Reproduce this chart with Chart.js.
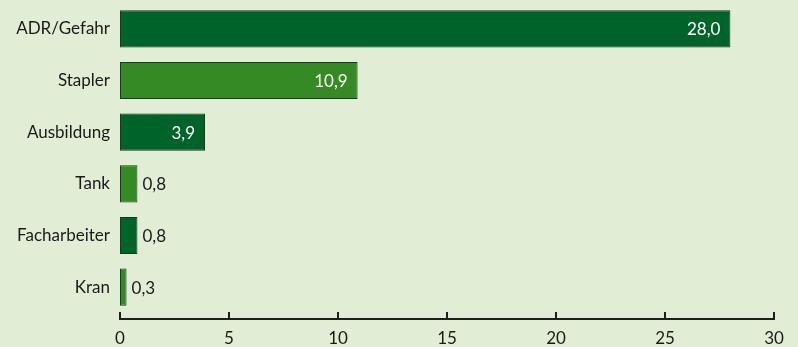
<!DOCTYPE html>
<html>
<head>
<meta charset="utf-8">
<script src="https://cdn.jsdelivr.net/npm/chart.js@4"></script>
<style>
  html, body { margin: 0; padding: 0; background: #e2edd6; overflow: hidden; }
  #wrap { width: 798px; height: 347px; position: relative; }
</style>
</head>
<body>
<div id="wrap"><canvas id="chart"></canvas></div>
<script>
const categories = ['ADR/Gefahr', 'Stapler', 'Ausbildung', 'Tank', 'Facharbeiter', 'Kran'];
const values = [28.0, 10.9, 3.9, 0.8, 0.8, 0.3];
const xTicks = [0, 5, 10, 15, 20, 25, 30];

const dark = '#00632a';
const light = '#358a26';
const barColors = values.map((v, i) => (i % 2 === 0 ? dark : light));
const fontFamily = 'Lato, "DejaVu Sans", sans-serif';
const fontSize = 17;

const fmt = (v) => v.toFixed(1).replace('.', ',');

// value labels: white inside long bars, dark outside short ones
const valueLabels = {
  id: 'valueLabels',
  afterDatasetsDraw(chart) {
    const ctx = chart.ctx;
    const meta = chart.getDatasetMeta(0);
    ctx.save();
    ctx.font = fontSize + 'px ' + fontFamily;
    ctx.textBaseline = 'middle';
    meta.data.forEach((bar, i) => {
      const v = values[i];
      if (v > 3) {
        ctx.fillStyle = '#ffffff';
        ctx.textAlign = 'right';
        ctx.fillText(fmt(v), bar.x - 10, bar.y + 1);
      } else {
        ctx.fillStyle = '#1a1a1a';
        ctx.textAlign = 'left';
        ctx.fillText(fmt(v), bar.x + 5, bar.y + 1);
      }
    });
    ctx.restore();
  }
};

// bottom axis line with ticks pointing up, slightly below the bars
const bottomAxis = {
  id: 'bottomAxis',
  afterDraw(chart) {
    const ctx = chart.ctx;
    const xs = chart.scales.x;
    const y = chart.chartArea.bottom + 6;
    ctx.save();
    ctx.strokeStyle = '#1e1e1e';
    ctx.lineWidth = 2;
    ctx.beginPath();
    ctx.moveTo(xs.getPixelForValue(xTicks[0]) - 1, y);
    ctx.lineTo(xs.getPixelForValue(xTicks[xTicks.length - 1]) + 1, y);
    ctx.stroke();
    xTicks.forEach((t) => {
      const px = Math.round(xs.getPixelForValue(t));
      ctx.beginPath();
      ctx.moveTo(px, y);
      ctx.lineTo(px, y - 7);
      ctx.stroke();
    });
    ctx.restore();
  }
};

new Chart(document.getElementById('chart'), {
  type: 'bar',
  data: {
    labels: categories,
    datasets: [{
      data: values,
      backgroundColor: barColors,
      borderColor: '#183a1e',
      borderWidth: 1,
      borderSkipped: false,
      barPercentage: 0.72,
      categoryPercentage: 1.0
    }]
  },
  options: {
    indexAxis: 'y',
    responsive: true,
    maintainAspectRatio: false,
    animation: false,
    layout: { padding: { top: 3, right: 24, bottom: 0, left: 0 } },
    plugins: {
      legend: { display: false },
      tooltip: { enabled: false }
    },
    scales: {
      x: {
        min: 0,
        max: 30,
        afterBuildTicks: (scale) => { scale.ticks = xTicks.map((v) => ({ value: v })); },
        afterFit: (scale) => { scale.height = 34; scale.paddingLeft = 0; scale.paddingRight = 0; },
        grid: { display: false, drawTicks: false },
        border: { display: false },
        ticks: {
          padding: 15,
          color: '#1a1a1a',
          font: { size: fontSize, family: fontFamily }
        }
      },
      y: {
        afterFit: (scale) => { scale.width = 120; scale.paddingTop = 0; scale.paddingBottom = 0; },
        grid: { display: false, drawTicks: false },
        border: { display: false },
        ticks: {
          padding: 10,
          color: '#1a1a1a',
          font: { size: fontSize, family: fontFamily }
        }
      }
    }
  },
  plugins: [valueLabels, bottomAxis]
});
</script>
</body>
</html>
